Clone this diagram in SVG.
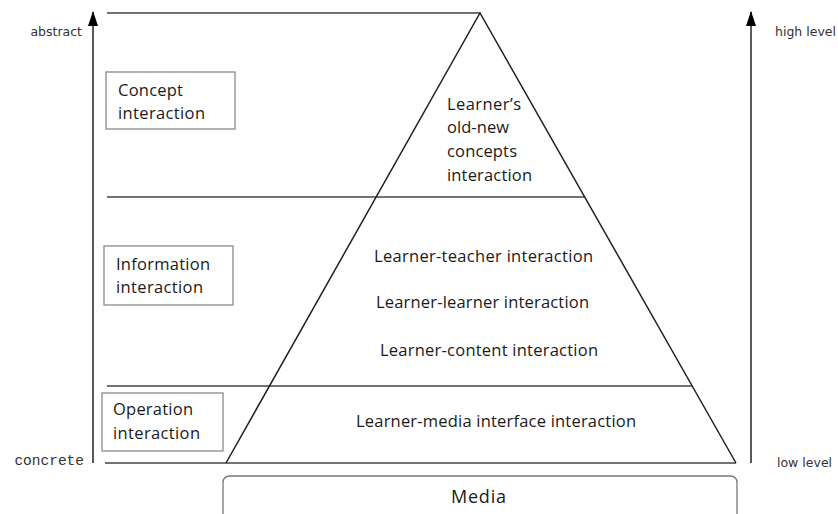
<svg xmlns="http://www.w3.org/2000/svg" width="838" height="514" viewBox="0 0 838 514">
<defs>
<marker id="ah" markerWidth="15" markerHeight="10" refX="14" refY="5" orient="auto" markerUnits="userSpaceOnUse" viewBox="0 0 15 10">
<path d="M0,0 L15,5 L0,10 Z" fill="#000"/>
</marker>
<style>
.ln{stroke:#222;stroke-width:1.5;fill:none}
.hl{stroke:#444;stroke-width:1.6;fill:none}
.box{fill:#fff;stroke:#8a8a8a;stroke-width:1.3}
.t{font-family:"Open Sans","Noto Sans",sans-serif;font-size:16.5px;fill:#1a1a1a}
.s{font-family:"DejaVu Sans",sans-serif;font-size:12.5px;fill:#333}
.m{font-family:"Liberation Mono",monospace;font-size:14.5px;fill:#333}
</style>
</defs>
<rect width="838" height="514" fill="#fff"/>
<g id="connectors">
<line class="ln" x1="93" y1="463" x2="93" y2="12" marker-end="url(#ah)"/>
<line class="ln" x1="751" y1="463" x2="751" y2="12" marker-end="url(#ah)"/>
<line class="hl" x1="107" y1="13" x2="480" y2="13"/>
<line class="hl" x1="107" y1="197" x2="585" y2="197"/>
<line class="hl" x1="107" y1="386" x2="692" y2="386"/>
<line class="hl" x1="105" y1="463" x2="736" y2="463"/>
</g>
<g id="pyramid">
<path class="ln" d="M226,463 L480,13 L736,463"/>
</g>
<g id="axis-labels">
<text class="s" x="82" y="36" text-anchor="end">abstract</text>
<text class="m" x="84" y="465" text-anchor="end">concrete</text>
<text class="s" x="775" y="36">high level</text>
<text class="s" x="777" y="467">low level</text>
</g>
<g id="concept-box">
<rect class="box" x="106" y="72" width="129" height="57"/>
<text class="t" x="118" y="96" textLength="65">Concept</text>
<text class="t" x="118" y="119" textLength="87">interaction</text>
</g>
<g id="information-box">
<rect class="box" x="104" y="246" width="129" height="59"/>
<text class="t" x="116" y="270" textLength="94">Information</text>
<text class="t" x="116" y="293" textLength="87">interaction</text>
</g>
<g id="operation-box">
<rect class="box" x="102" y="393" width="121" height="58"/>
<text class="t" x="113" y="415" textLength="80">Operation</text>
<text class="t" x="113" y="439" textLength="87">interaction</text>
</g>
<g id="concepts-level">
<text class="t" x="447" y="110" textLength="74">Learner’s</text>
<text class="t" x="447" y="133" textLength="62">old-new</text>
<text class="t" x="447" y="157" textLength="70">concepts</text>
<text class="t" x="447" y="181" textLength="85">interaction</text>
</g>
<g id="information-level">
<text class="t" x="374" y="262" textLength="219">Learner-teacher interaction</text>
<text class="t" x="376" y="308" textLength="213">Learner-learner interaction</text>
<text class="t" x="380" y="356" textLength="218">Learner-content interaction</text>
</g>
<g id="operation-level">
<text class="t" x="356" y="427" textLength="280">Learner-media interface interaction</text>
</g>
<g id="media">
<path d="M223,520 L223,483 Q223,476 230,476 L730,476 Q737,476 737,483 L737,520" fill="#fff" stroke="#777" stroke-width="1.3"/>
<text class="t" x="451" y="503" textLength="55" style="font-size:18px">Media</text>
</g>
</svg>
